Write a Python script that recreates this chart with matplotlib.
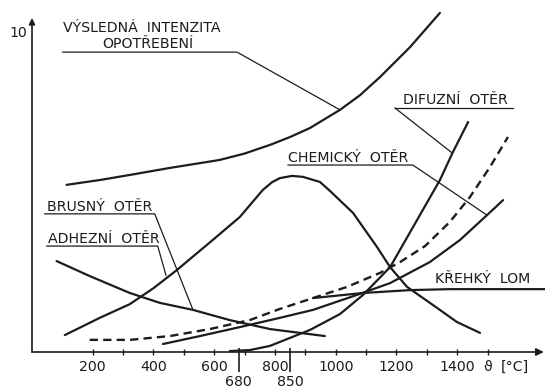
import matplotlib.pyplot as plt

# temperature [°C] / relative wear intensity (0..10)
t_total = [114, 223, 322, 454, 618, 700, 783, 850, 915, 1014, 1080, 1146, 1245, 1343]
v_total = [5.24, 5.39, 5.55, 5.77, 6.02, 6.22, 6.49, 6.74, 7.02, 7.59, 8.05, 8.62, 9.56, 10.63]

t_adhes = [108, 223, 322, 400, 477, 595, 684, 760, 790, 816, 856, 892, 948, 981, 1057, 1136, 1179, 1235, 1334, 1399, 1475]
v_adhes = [0.53, 1.07, 1.50, 2.00, 2.57, 3.51, 4.23, 5.08, 5.32, 5.45, 5.52, 5.49, 5.33, 5.05, 4.36, 3.29, 2.66, 2.04, 1.38, 0.94, 0.60]

t_abras = [81, 190, 322, 421, 530, 651, 783, 964]
v_abras = [2.85, 2.38, 1.85, 1.54, 1.32, 1.00, 0.72, 0.50]

t_dash = [190, 322, 454, 586, 717, 816, 925, 1037, 1146, 1212, 1294, 1376, 1442, 1508, 1567]
v_dash = [0.38, 0.38, 0.50, 0.72, 1.00, 1.35, 1.69, 2.04, 2.48, 2.82, 3.32, 4.08, 4.86, 5.80, 6.74]

t_chem = [431, 553, 684, 816, 925, 1070, 1179, 1310, 1409, 1498, 1551]
v_chem = [0.25, 0.50, 0.78, 1.07, 1.32, 1.79, 2.16, 2.82, 3.51, 4.29, 4.76]

t_diff = [651, 717, 783, 849, 915, 1014, 1090, 1179, 1277, 1343, 1386, 1436]
v_diff = [0.03, 0.06, 0.19, 0.44, 0.69, 1.19, 1.79, 2.66, 4.29, 5.39, 6.27, 7.21]

t_brit = [925, 1090, 1245, 1376, 1689]
v_brit = [1.69, 1.85, 1.94, 1.97, 1.97]

tick_t = list(range(200, 1600, 100))
label_t = [200, 400, 600, 800, 1000, 1200, 1400]
mark_t = [680, 850]

ink = '#1c1c1c'
font = dict(family='DejaVu Sans', fontsize=10.2, color=ink)

fig = plt.figure(figsize=(5.45, 3.9), dpi=100)
ax = fig.add_axes([32 / 545, 38 / 390, 513 / 545, 342 / 390])
ax.set_xlim(0, 1689)
ax.set_ylim(0, 10.72)
ax.axis('off')

# curves
for t, v in [(t_total, v_total), (t_adhes, v_adhes), (t_abras, v_abras),
             (t_chem, v_chem), (t_diff, v_diff), (t_brit, v_brit)]:
    ax.plot(t, v, color=ink, lw=1.6, solid_capstyle='round', solid_joinstyle='round', clip_on=False)
ax.plot(t_dash, v_dash, color=ink, lw=1.7, linestyle=(0, (3.5, 2.2)), clip_on=False)

# axes with arrows
ax.annotate('', xy=(1685, 0), xytext=(0, 0), annotation_clip=False,
            arrowprops=dict(arrowstyle='-|>', lw=1.2, color=ink, mutation_scale=11, shrinkA=0, shrinkB=0))
ax.annotate('', xy=(0, 10.47), xytext=(0, 0), annotation_clip=False,
            arrowprops=dict(arrowstyle='-|>', lw=1.2, color=ink, mutation_scale=9, shrinkA=0, shrinkB=0))
ax.vlines(tick_t, -0.09, 0.09, color=ink, lw=1.0, clip_on=False)
ax.vlines(mark_t, -0.63, 0.12, color=ink, lw=1.2, clip_on=False)

for t in label_t:
    ax.text(t, -0.47, str(t), ha='center', va='center', **font)
for t in mark_t:
    ax.text(t, -0.94, str(t), ha='center', va='center', **font)
ax.text(1500, -0.47, 'ϑ', ha='center', va='center', **font)
ax.text(1590, -0.47, '[°C]', ha='center', va='center', **font)
ax.text(-16, 10.0, '10', ha='right', va='center', **font)

# labels with leader lines
leaders = [
    ([101, 675, 1014], [9.40, 9.40, 7.59]),
    ([1195, 1584], [7.65, 7.65]), ([1195, 1383], [7.65, 6.24]),
    ([843, 1254, 1498], [5.86, 5.86, 4.29]),
    ([42, 404, 530], [4.33, 4.33, 1.32]),
    ([48, 414, 441], [3.32, 3.32, 2.41]),
]
for lx, ly in leaders:
    ax.plot(lx, ly, color=ink, lw=0.9, clip_on=False)

ax.text(101, 10.16, 'VÝSLEDNÁ  INTENZITA', ha='left', va='center', **font)
ax.text(381, 9.64, 'OPOTŘEBENÍ', ha='center', va='center', **font)
ax.text(1221, 7.90, 'DIFUZNÍ  OTĚR', ha='left', va='center', **font)
ax.text(843, 6.08, 'CHEMICKÝ  OTĚR', ha='left', va='center', **font)
ax.text(48, 4.55, 'BRUSNÝ  OTĚR', ha='left', va='center', **font)
ax.text(52, 3.53, 'ADHEZNÍ  OTĚR', ha='left', va='center', **font)
ax.text(1327, 2.29, 'KŘEHKÝ  LOM', ha='left', va='center', **font)

plt.savefig('out.png')
plt.close()
